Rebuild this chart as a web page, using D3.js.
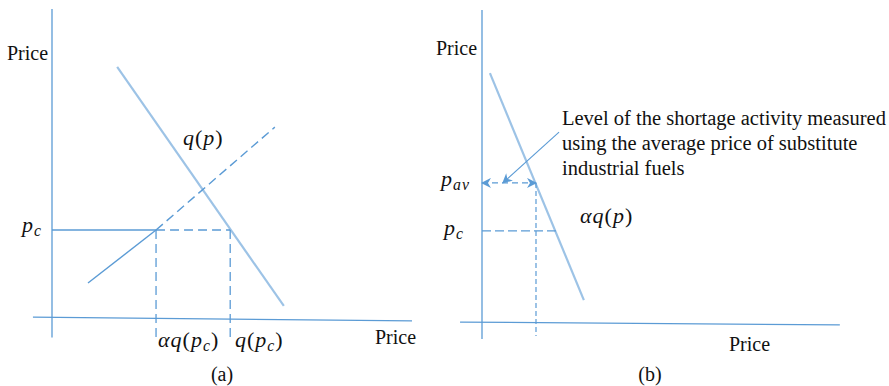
<!DOCTYPE html>
<html>
<head>
<meta charset="utf-8">
<script src="https://cdn.jsdelivr.net/npm/d3@7"></script>
<style>
  html, body { margin: 0; padding: 0; background: #fff; }
  svg { display: block; }
  text { font-family: "Liberation Serif", "Times New Roman", serif; fill: #111; }
</style>
</head>
<body>
<svg id="chart" width="889" height="386"></svg>
<script>
// ---- Panel (a): demand q(p), supply and the controlled price p_c ----
const aAxisX = [[-0.53, 0.06], [10, -0.06]];      // horizontal axis ends (q, p)
const aAxisY = [[0, 10.0], [0, -0.6]];            // vertical axis ends
const aDemand = [[1.81, 8.13], [6.44, 0.42]];     // q(p)
const aSupplySolid = [[1.0, 1.16], [2.89, 2.87]];
const aSupplyDashed = [[2.89, 2.87], [6.19, 6.19]];
const aPc = 2.87;                                  // controlled price
const aAlphaQ = 2.89;                              // alpha * q(p_c)
const aQpc = 4.95;                                 // q(p_c)
const aDropTo = -0.6;

// ---- Panel (b): scaled demand alpha*q(p), average substitute price ----
const bAxisX = [[-0.61, 0.03], [9.94, -0.06]];
const bAxisY = [[0, 10.1], [0, -0.52]];
const bDemand = [[0.22, 8.06], [2.83, 0.74]];     // alpha*q(p)
const bPav = 4.52;                                 // average price
const bQav = 1.5;                                  // alpha*q(p_av)
const bPc = 2.97;
const bQpc = 2.06;
const bDropTo = -0.42;
const bCallout = [[2.14, 6.16], [0.58, 4.52]];    // annotation pointer
const bNote = ["Level of the shortage activity measured",
               "using the average price of substitute",
               "industrial fuels"];

const axisBlue = "#5b9bd5";
const lightBlue = "#9dc3e6";

const svg = d3.select("#chart");

const defs = svg.append("defs");
defs.append("marker")
  .attr("id", "arr")
  .attr("viewBox", "0 0 10 10")
  .attr("refX", 9).attr("refY", 5)
  .attr("markerWidth", 10).attr("markerHeight", 10)
  .attr("markerUnits", "userSpaceOnUse")
  .attr("orient", "auto-start-reverse")
  .append("path")
  .attr("d", "M0,0 L10,5 L0,10 L3,5 Z")
  .attr("fill", axisBlue);

function panel(xRange, yRange) {
  const x = d3.scaleLinear().domain([0, 10]).range(xRange);
  const y = d3.scaleLinear().domain([0, 10]).range(yRange);
  const line = d3.line().x(d => x(d[0])).y(d => y(d[1]));
  return { x, y, line };
}

function seg(g, P, pts, color, width, dash) {
  const p = g.append("path")
    .attr("d", P.line(pts))
    .attr("fill", "none")
    .attr("stroke", color)
    .attr("stroke-width", width);
  if (dash) p.attr("stroke-dasharray", dash);
  return p;
}

// math label built from pieces: "i" italic, "r" upright, "s" italic subscript,
// "r2" upright after a subscript (back on the baseline)
function mathLabel(g, x, y, parts, size) {
  const t = g.append("text").attr("x", x).attr("y", y)
    .attr("font-size", size).attr("letter-spacing", 1);
  parts.forEach(([s, k]) => {
    const ts = t.append("tspan").text(s);
    if (k === "i") ts.attr("font-style", "italic");
    if (k === "s") {
      ts.attr("font-style", "italic").attr("font-size", size * 0.72).attr("dy", 4);
    }
    if (k === "r2") ts.attr("dy", -4);
  });
  return t;
}

// ---------- Panel (a) ----------
const A = panel([52, 412], [319, 9]);
const ga = svg.append("g");
seg(ga, A, aAxisY, axisBlue, 1.3);
seg(ga, A, aAxisX, axisBlue, 1.3);
seg(ga, A, aDemand, lightBlue, 2.2);
seg(ga, A, aSupplySolid, axisBlue, 1.4);
seg(ga, A, aSupplyDashed, axisBlue, 1.4, "9,5");
seg(ga, A, [[0, aPc], [aAlphaQ, aPc]], axisBlue, 1.4);
seg(ga, A, [[aAlphaQ, aPc], [aQpc, aPc]], axisBlue, 1.4, "9,5");
seg(ga, A, [[aAlphaQ, aPc], [aAlphaQ, aDropTo]], axisBlue, 1.3, "9,5");
seg(ga, A, [[aQpc, aPc], [aQpc, aDropTo]], axisBlue, 1.3, "9,5");

ga.append("text").attr("x", 7).attr("y", 60).attr("font-size", 20).text("Price");
ga.append("text").attr("x", 375).attr("y", 344).attr("font-size", 20).text("Price");
ga.append("text").attr("x", 222).attr("y", 381).attr("font-size", 20)
  .attr("text-anchor", "middle").text("(a)");
mathLabel(ga, 183, 145, [["q", "i"], ["(", "r"], ["p", "i"], [")", "r"]], 22);
mathLabel(ga, 22, 232, [["p", "i"], ["c", "s"]], 22);
mathLabel(ga, 158, 347, [["αq", "i"], ["(", "r"], ["p", "i"], ["c", "s"], [")", "r2"]], 22);
mathLabel(ga, 235, 347, [["q", "i"], ["(", "r"], ["p", "i"], ["c", "s"], [")", "r2"]], 22);

// ---------- Panel (b) ----------
const B = panel([482, 842], [323, 13]);
const gb = svg.append("g");
seg(gb, B, bAxisY, axisBlue, 1.3);
seg(gb, B, bAxisX, axisBlue, 1.3);
seg(gb, B, bDemand, lightBlue, 2.2);
seg(gb, B, [[0, bPav], [bQav, bPav]], axisBlue, 1.3, "6,4")
  .attr("marker-start", "url(#arr)").attr("marker-end", "url(#arr)");
seg(gb, B, [[bQav, bPav], [bQav, bDropTo]], axisBlue, 1.2, "5,3");
seg(gb, B, [[0, bPc], [bQpc, bPc]], axisBlue, 1.3, "9,4");
seg(gb, B, bCallout, axisBlue, 1.1).attr("marker-end", "url(#arr)");

gb.append("text").attr("x", 436).attr("y", 55).attr("font-size", 20).text("Price");
gb.append("text").attr("x", 729).attr("y", 351).attr("font-size", 20).text("Price");
gb.append("text").attr("x", 650).attr("y", 381).attr("font-size", 20)
  .attr("text-anchor", "middle").text("(b)");
const note = gb.append("text").attr("x", 562).attr("y", 125).attr("font-size", 20.5);
bNote.forEach((s, i) => {
  note.append("tspan").attr("x", 562).attr("dy", i === 0 ? 0 : 25).text(s);
});
mathLabel(gb, 441, 186, [["p", "i"], ["av", "s"]], 22);
mathLabel(gb, 444, 235, [["p", "i"], ["c", "s"]], 22);
mathLabel(gb, 580, 223, [["αq", "i"], ["(", "r"], ["p", "i"], [")", "r"]], 22);
</script>
</body>
</html>
